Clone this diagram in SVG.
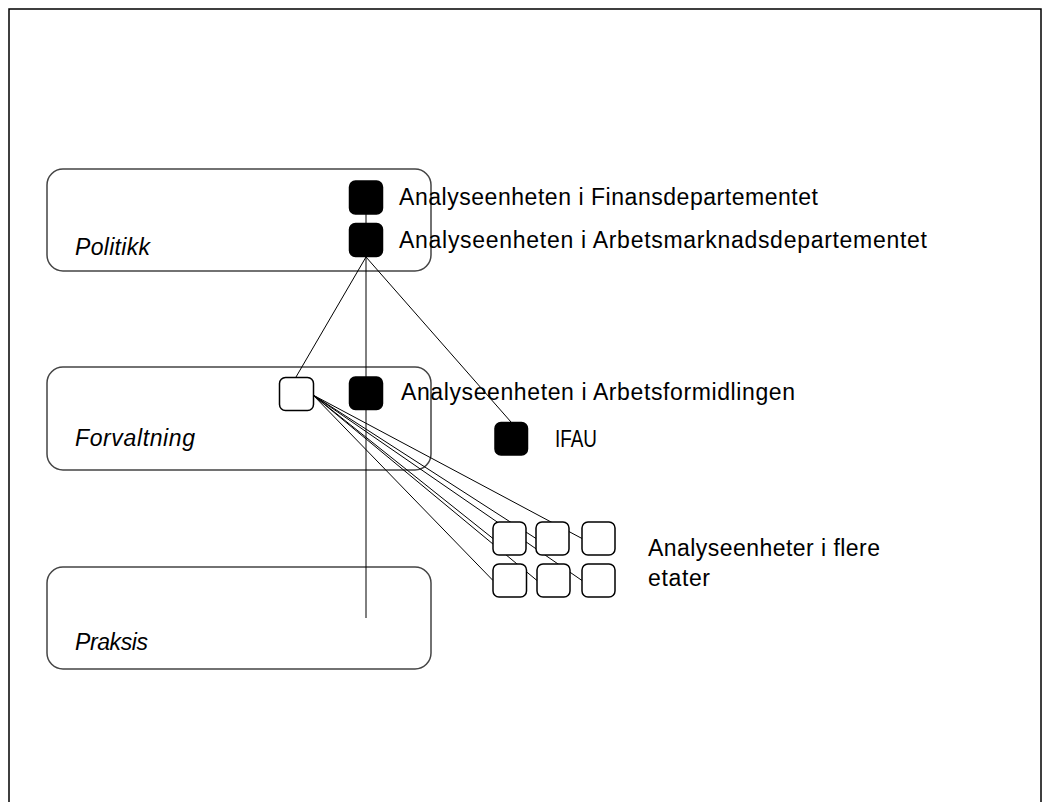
<svg xmlns="http://www.w3.org/2000/svg" width="1052" height="802" viewBox="0 0 1052 802">
<style>
.frame{fill:none;stroke:#000;stroke-width:1.5}
.layer{fill:none;stroke:#444;stroke-width:1.5}
.blk{fill:#000;stroke:#000;stroke-width:1.5}
.wht{fill:#fff;stroke:#000;stroke-width:1.5}
.ln{stroke:#000;stroke-width:1;fill:none}
text{font-family:"Liberation Sans",Arial,sans-serif;font-size:23px;fill:#000}
.it{font-style:italic}
</style>
<rect width="1052" height="802" fill="#fff"/>
<path class="frame" d="M9,802 V9 H1041 V802"/>
<g id="layer-politikk">
<rect class="layer" x="47" y="169" width="384" height="102" rx="16"/>
<text class="it" x="75" y="255" textLength="75">Politikk</text>
</g>
<g id="layer-forvaltning">
<rect class="layer" x="47" y="367" width="384" height="103" rx="16"/>
<text class="it" x="75" y="446" textLength="120">Forvaltning</text>
</g>
<g id="layer-praksis">
<rect class="layer" x="47" y="567" width="384" height="102" rx="16"/>
<text class="it" x="75" y="650" textLength="73">Praksis</text>
</g>
<g id="connectors">
<line class="ln" x1="366" y1="214" x2="366" y2="223"/>
<line class="ln" x1="366" y1="257" x2="366" y2="618"/>
<line class="ln" x1="366" y1="257" x2="296" y2="377"/>
<line class="ln" x1="366" y1="257" x2="511" y2="422"/>
<line class="ln" x1="313" y1="395" x2="493" y2="538.5"/>
<line class="ln" x1="313" y1="395" x2="536" y2="538.5"/>
<line class="ln" x1="313" y1="395" x2="582" y2="538.5"/>
<line class="ln" x1="313" y1="395" x2="493" y2="580.5"/>
<line class="ln" x1="313" y1="395" x2="537" y2="580.5"/>
<line class="ln" x1="313" y1="395" x2="582" y2="580.5"/>
</g>
<g id="finansdep">
<rect class="blk" x="349.5" y="181" width="33" height="33" rx="6"/>
<text x="399" y="205" textLength="419">Analyseenheten i Finansdepartementet</text>
</g>
<g id="arbetsmarknadsdep">
<rect class="blk" x="349.5" y="223.5" width="33" height="33" rx="6"/>
<text x="399" y="248" textLength="528">Analyseenheten i Arbetsmarknadsdepartementet</text>
</g>
<g id="forvaltning-unit">
<rect class="wht" x="279.5" y="377.5" width="34" height="33" rx="6"/>
</g>
<g id="arbetsformidlingen">
<rect class="blk" x="349.5" y="377" width="33" height="32.5" rx="6"/>
<text x="401" y="400" textLength="394">Analyseenheten i Arbetsformidlingen</text>
</g>
<g id="ifau">
<rect class="blk" x="495" y="422.5" width="32.5" height="32.5" rx="6"/>
<text x="555" y="447" textLength="42" lengthAdjust="spacingAndGlyphs">IFAU</text>
</g>
<g id="etater">
<rect class="wht" x="493" y="522" width="33" height="33" rx="6"/>
<rect class="wht" x="536" y="522" width="33" height="33" rx="6"/>
<rect class="wht" x="582" y="522" width="33" height="33" rx="6"/>
<rect class="wht" x="493" y="564" width="33.5" height="33" rx="6"/>
<rect class="wht" x="537" y="564" width="33" height="33" rx="6"/>
<rect class="wht" x="582" y="564" width="33" height="33" rx="6"/>
<text x="648" y="556" textLength="232">Analyseenheter i flere</text>
<text x="648" y="586" textLength="62">etater</text>
</g>
</svg>
